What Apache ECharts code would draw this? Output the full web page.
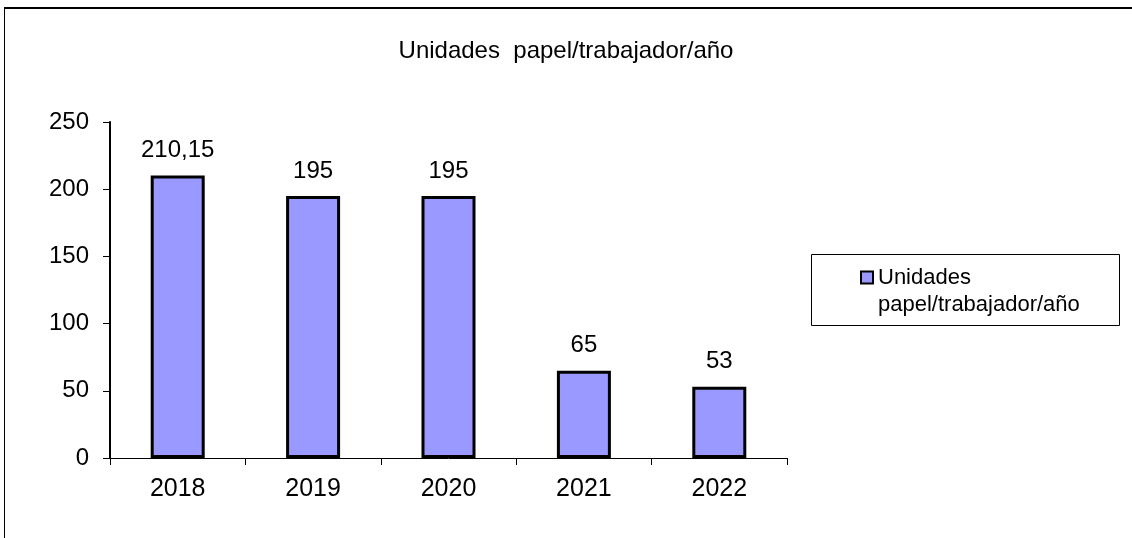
<!DOCTYPE html>
<html>
<head>
<meta charset="utf-8">
<script src="https://cdn.jsdelivr.net/npm/echarts@6/dist/echarts.min.js"></script>
<style>
  html, body { margin: 0; padding: 0; background: #fff; }
  #chart { width: 1132px; height: 538px; }
</style>
</head>
<body>
<div id="chart"></div>
<script>
// datos del gráfico
var years = ['2018', '2019', '2020', '2021', '2022'];
var units = [210.15, 195, 195, 65, 53];
var yTicks = [0, 50, 100, 150, 200, 250];
var seriesName = 'Unidades papel/trabajador/año';

var chart = echarts.init(document.getElementById('chart'));
var font = '"Liberation Sans", Arial, sans-serif';

var option = {
  backgroundColor: '#fff',
  animation: false,
  title: {
    text: 'Unidades  papel/trabajador/año',
    left: 561,
    top: 34,
    textAlign: 'center',
    textStyle: { fontFamily: font, fontSize: 24, fontWeight: 'normal', color: '#000' }
  },
  // marco de la página (solo se ven arriba y a la izquierda) y caja de la leyenda
  graphic: [
    { type: 'line', shape: { x1: 4, y1: 8, x2: 1132, y2: 8 }, style: { stroke: '#000', lineWidth: 2 } },
    { type: 'line', shape: { x1: 4.5, y1: 8, x2: 4.5, y2: 538 }, style: { stroke: '#000', lineWidth: 1 } },
    { type: 'rect', shape: { x: 811.5, y: 254.5, width: 308, height: 71 }, style: { fill: 'none', stroke: '#000', lineWidth: 1 } }
  ],
  legend: {
    left: 860,
    top: 237,
    padding: 0,
    itemWidth: 12,
    itemHeight: 12,
    icon: 'rect',
    data: [seriesName],
    // línea vacía arriba para que el icono quede junto a la primera línea
    formatter: function () { return ' \nUnidades\npapel/trabajador/año'; },
    textStyle: { fontFamily: font, fontSize: 22, color: '#000', lineHeight: 27 },
    itemStyle: { borderColor: '#000', borderWidth: 2 }
  },
  grid: { left: 110, right: 345, top: 122, bottom: 80 },
  xAxis: {
    type: 'category',
    data: years,
    axisLine: { lineStyle: { color: '#000', width: 1 } },
    axisTick: { show: true, length: 7, lineStyle: { color: '#000' } },
    axisLabel: { color: '#000', fontFamily: font, fontSize: 25, margin: 19 }
  },
  yAxis: {
    type: 'value',
    min: yTicks[0],
    max: yTicks[yTicks.length - 1],
    interval: yTicks[1] - yTicks[0],
    splitLine: { show: false },
    axisLine: { show: true, lineStyle: { color: '#000', width: 2 } },
    axisTick: { show: true, length: 7, lineStyle: { color: '#000', width: 1 } },
    axisLabel: { color: '#000', fontFamily: font, fontSize: 24, margin: 21 }
  },
  series: [{
    name: seriesName,
    type: 'bar',
    data: units,
    barWidth: 54,
    itemStyle: { color: '#9999ff', borderColor: '#000', borderWidth: 3 },
    label: {
      show: true,
      position: 'top',
      distance: 13,
      color: '#000',
      fontFamily: font,
      fontSize: 24,
      formatter: function (p) { return String(p.value).replace('.', ','); }
    }
  }]
};

chart.setOption(option);
</script>
</body>
</html>
